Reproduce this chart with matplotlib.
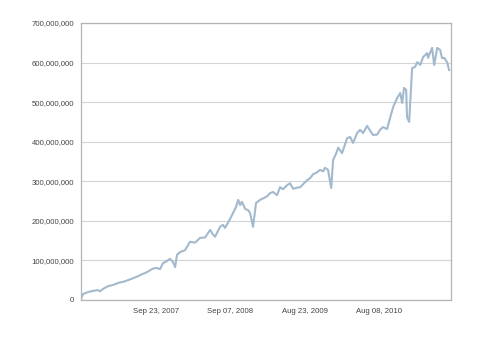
import pandas as pd
import matplotlib
matplotlib.use("Agg")
import matplotlib.pyplot as plt
import matplotlib.dates as mdates
from matplotlib.ticker import FuncFormatter

plt.rcParams.update({"font.family": ["Liberation Sans", "DejaVu Sans"], "font.size": 5.6})

# values (millions)
dates = ["2006-10-05", "2006-10-14", "2006-11-07", "2006-11-30", "2006-12-24", "2007-01-02",
         "2007-01-17", "2007-02-09", "2007-03-05", "2007-03-28", "2007-04-21", "2007-05-14",
         "2007-06-07", "2007-06-30", "2007-07-19", "2007-08-02", "2007-08-17", "2007-09-04",
         "2007-09-19", "2007-10-03", "2007-10-12", "2007-10-26", "2007-11-09", "2007-11-28",
         "2007-12-12", "2007-12-22", "2007-12-31", "2008-01-14", "2008-02-07", "2008-03-01",
         "2008-03-25", "2008-04-18", "2008-05-11", "2008-06-04", "2008-06-18", "2008-06-27",
         "2008-07-21", "2008-08-04", "2008-08-13", "2008-09-06", "2008-09-20", "2008-10-04",
         "2008-10-14", "2008-10-23", "2008-11-01", "2008-11-16", "2008-11-30", "2008-12-09",
         "2008-12-23", "2009-01-06", "2009-01-25", "2009-02-13", "2009-02-27", "2009-03-13",
         "2009-03-27", "2009-04-15", "2009-04-29", "2009-05-13", "2009-06-01", "2009-06-15",
         "2009-06-30", "2009-07-18", "2009-08-02", "2009-08-20", "2009-09-04", "2009-09-18",
         "2009-10-02", "2009-10-16", "2009-11-04", "2009-11-18", "2009-11-27", "2009-12-11",
         "2009-12-26", "2010-01-04", "2010-01-18", "2010-01-28", "2010-02-15", "2010-03-02",
         "2010-03-11", "2010-03-25", "2010-04-08", "2010-04-27", "2010-05-11", "2010-05-25",
         "2010-06-13", "2010-06-27", "2010-07-11", "2010-07-30", "2010-08-13", "2010-08-27",
         "2010-09-15", "2010-09-29", "2010-10-14", "2010-11-01", "2010-11-16", "2010-11-25",
         "2010-12-04", "2010-12-14", "2010-12-18", "2010-12-28", "2011-01-11", "2011-01-25",
         "2011-02-04", "2011-02-18", "2011-03-04", "2011-03-23", "2011-03-27", "2011-04-15",
         "2011-04-25", "2011-05-09", "2011-05-23", "2011-06-01", "2011-06-11", "2011-06-25",
         "2011-07-04"]
values_m = [2, 15, 20, 23, 25, 22,
            28, 35, 38, 43, 46, 50,
            55, 60, 65, 68, 72, 78,
            81, 80, 78, 93, 97, 104,
            96, 83, 114, 121, 126, 147,
            145, 157, 158, 177, 165, 160,
            185, 190, 182, 205, 220, 235,
            253, 240, 248, 230, 227, 220,
            185, 245, 253, 258, 262, 270,
            273, 265, 285, 280, 290, 295,
            281, 284, 285, 295, 303, 308,
            318, 321, 329, 325, 334, 329,
            283, 354, 370, 385, 371, 395,
            409, 412, 397, 422, 430, 422,
            440, 428, 417, 418, 430, 437,
            432, 460, 488, 510, 523, 498,
            536, 531, 462, 450, 586, 589,
            601, 594, 614, 624, 612, 637,
            594, 637, 632, 611, 612, 601,
            581]
tick_dates = ["2007-09-23", "2008-09-07", "2009-08-23", "2010-08-08"]
y_ticks = [0, 100e6, 200e6, 300e6, 400e6, 500e6, 600e6, 700e6]

x = pd.to_datetime(dates)
y = [v * 1e6 for v in values_m]

fig = plt.figure(figsize=(4.92, 3.45), dpi=100)
ax = fig.add_axes([81 / 492, 45 / 345, 370 / 492, 277 / 345])
ax.plot(x, y, color="#a3b9cd", lw=1.5, solid_joinstyle="round")

ax.set_xlim(pd.Timestamp("2006-10-05"), pd.Timestamp("2011-07-13"))
ax.set_ylim(0, 700e6)
ax.set_yticks(y_ticks)
ax.yaxis.set_major_formatter(FuncFormatter(lambda v, p: f"{v:,.0f}"))
ax.set_xticks(pd.to_datetime(tick_dates))
ax.xaxis.set_major_formatter(mdates.DateFormatter("%b %d, %Y"))

ax.grid(axis="y", color="#d4d4d4", lw=0.8)
ax.set_axisbelow(True)
for s in ax.spines.values():
    s.set_color("#b4b4b4")
    s.set_linewidth(0.9)
ax.tick_params(length=0, colors="#444444", pad=5)
ax.tick_params(axis="x", pad=6)

fig.savefig("out.png", dpi=100)
